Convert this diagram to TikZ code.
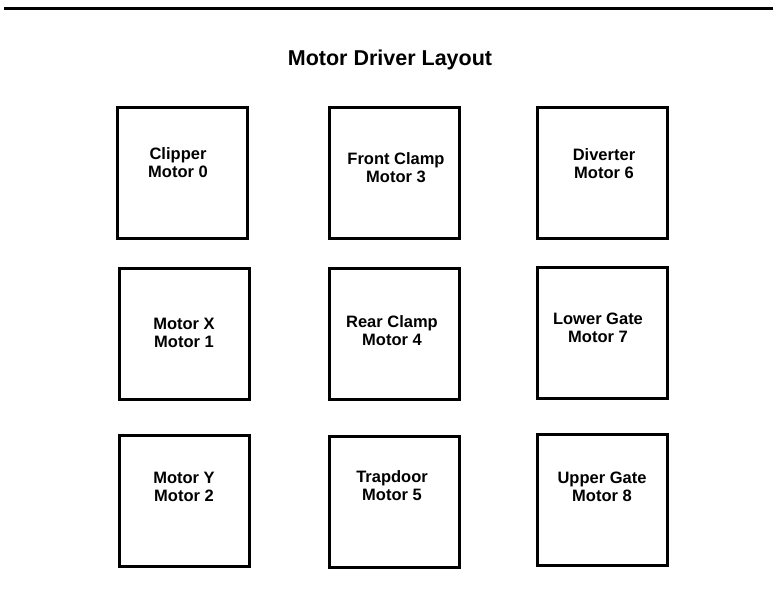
\documentclass[tikz,border=0pt]{standalone}
\usepackage{fontspec}
\setmainfont{Liberation Sans}
\begin{document}
\begin{tikzpicture}[x=1pt,y=-1pt,
  motorbox/.style={draw=black, line width=3pt, fill=white, rectangle, inner sep=0pt, outer sep=0pt, minimum width=130pt, minimum height=131pt},
  motorlabel/.style={font=\fontsize{16.5}{18}\selectfont\bfseries, align=center, inner sep=0pt},
  titlelabel/.style={font=\fontsize{21.5}{24}\selectfont\bfseries, inner sep=0pt}]
\useasboundingbox (0,0) rectangle (773,595);
\fill[white] (0,0) rectangle (773,595);
\coordinate (rl) at (4,8.5);
\coordinate (rr) at (773,8.5);
\draw[line width=2.5pt] (rl) -- (rr);
\node[titlelabel] (title) at (390,60) {Motor Driver Layout};
% row 1
\node[motorbox] (b0) at (182.5,172.5) {};
\node[motorbox] (b3) at (394,172.5) {};
\node[motorbox] (b6) at (602.5,172.5) {};
% row 2
\node[motorbox] (b1) at (184,334) {};
\node[motorbox] (b4) at (394,334) {};
\node[motorbox] (b7) at (602.5,333) {};
% row 3
\node[motorbox] (b2) at (184.5,500.5) {};
\node[motorbox] (b5) at (394,502) {};
\node[motorbox] (b8) at (602.5,499.5) {};
% labels
\node[motorlabel] (l0) at (178,163) {Clipper\\Motor 0};
\node[motorlabel] (l3) at (396,168) {Front Clamp\\Motor 3};
\node[motorlabel] (l6) at (604,164) {Diverter\\Motor 6};
\node[motorlabel] (l1) at (184,333) {Motor X\\Motor 1};
\node[motorlabel] (l4) at (392,331) {Rear Clamp\\Motor 4};
\node[motorlabel] (l7) at (598,328) {Lower Gate\\Motor 7};
\node[motorlabel] (l2) at (184,487) {Motor Y\\Motor 2};
\node[motorlabel] (l5) at (392,486) {Trapdoor\\Motor 5};
\node[motorlabel] (l8) at (602,487) {Upper Gate\\Motor 8};
\end{tikzpicture}
\end{document}
